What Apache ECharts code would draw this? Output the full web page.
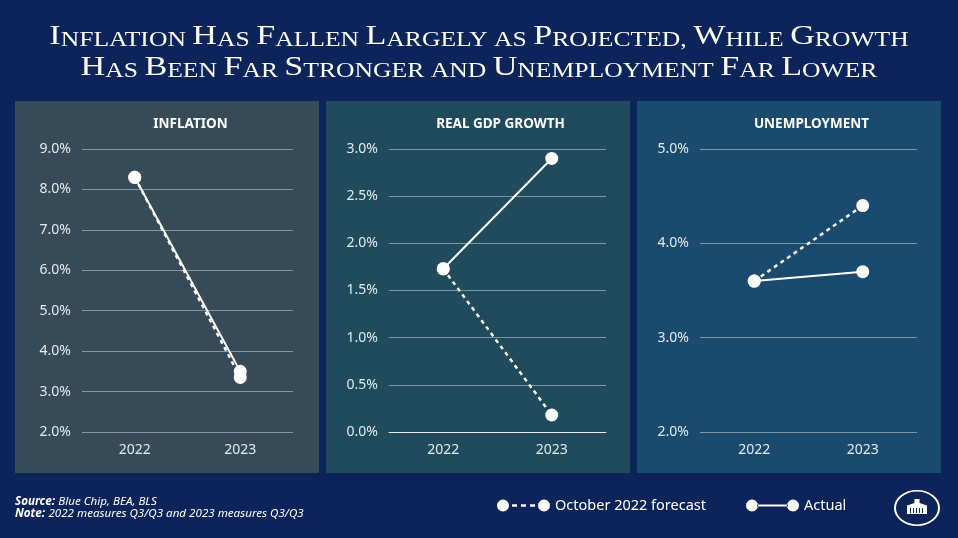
<!DOCTYPE html>
<html>
<head>
<meta charset="utf-8">
<script src="https://cdn.jsdelivr.net/npm/echarts@6/dist/echarts.min.js"></script>
<style>
  html, body { margin: 0; padding: 0; background: #0c2459; }
  #main { width: 958px; height: 538px; }
</style>
</head>
<body>
<div id="main"></div>
<script>
// data
const years = ['2022', '2023'];
const panelTitles = ['INFLATION', 'REAL GDP GROWTH', 'UNEMPLOYMENT'];
const inflationForecast = [8.3, 3.35];
const inflationActual = [8.3, 3.5];
const gdpForecast = [1.73, 0.18];
const gdpActual = [1.73, 2.9];
const unempForecast = [3.6, 4.4];
const unempActual = [3.6, 3.7];
const forecastName = 'October 2022 forecast';
const actualName = 'Actual';

const titleLines = [
  'Inflation Has Fallen Largely as Projected, While Growth',
  'Has Been Far Stronger and Unemployment Far Lower'
];

const chart = echarts.init(document.getElementById('main'));

// fake small caps with rich text: capitals big, the rest small uppercase
function smallCaps(str) {
  let out = '';
  let run = '';
  let kind = null;
  for (const ch of str) {
    const k = (ch >= 'A' && ch <= 'Z') ? 'b' : 's';
    if (k !== kind && run) {
      out += '{' + kind + '|' + run + '}';
      run = '';
    }
    kind = k;
    run += ch.toUpperCase();
  }
  if (run) out += '{' + kind + '|' + run + '}';
  return out;
}

const labelColor = '#e4eaee';
const gridColor = 'rgba(200,214,224,0.55)';
const font = 'Noto Sans';

// panel boxes [x, width, color]
const panels = [
  [15, 304, '#364b57'],
  [326, 304, '#1f4b5c'],
  [637, 304, '#1b4a6f']
];
const grids = [
  { left: 82, width: 211, top: 149, height: 283 },
  { left: 389, width: 217, top: 149, height: 283 },
  { left: 700, width: 217, top: 149, height: 283 }
];
const yRanges = [[2, 9, 1], [0, 3, 0.5], [2, 5, 1]];

const xAxes = grids.map((g, i) => ({
  type: 'category',
  gridIndex: i,
  data: years,
  boundaryGap: true,
  axisTick: { show: false },
  axisLine: { show: i === 1, lineStyle: { color: '#e8eef2', width: 1 } },
  axisLabel: { color: labelColor, fontSize: 14, fontFamily: font, margin: 11 }
}));

const yAxes = yRanges.map((r, i) => ({
  type: 'value',
  gridIndex: i,
  min: r[0],
  max: r[1],
  interval: r[2],
  axisLine: { show: false },
  axisTick: { show: false },
  splitLine: { lineStyle: { color: gridColor, width: 1 } },
  axisLabel: {
    color: labelColor, fontSize: 14, fontFamily: font, margin: 11,
    formatter: v => v.toFixed(1) + '%'
  }
}));

function forecastSeries(data, i) {
  return {
    name: forecastName, type: 'line', xAxisIndex: i, yAxisIndex: i, data,
    symbol: 'circle', symbolSize: 13, z: 3,
    itemStyle: { color: '#ffffff' },
    lineStyle: { color: '#ffffff', width: 2.5, type: [4, 4] },
    emphasis: { disabled: true }
  };
}
function actualSeries(data, i) {
  return {
    name: actualName, type: 'line', xAxisIndex: i, yAxisIndex: i, data,
    symbol: 'circle', symbolSize: 13, z: 4,
    itemStyle: { color: '#ffffff' },
    lineStyle: { color: '#ffffff', width: 2 },
    emphasis: { disabled: true }
  };
}

const dashedIcon = 'path://M0,6A6,6 0 1,0 12,6A6,6 0 1,0 0,6Z' +
  'M15,4.8L20,4.8L20,7.2L15,7.2Z M24,4.8L29,4.8L29,7.2L24,7.2Z M33,4.8L38,4.8L38,7.2L33,7.2Z' +
  'M41,6A6,6 0 1,0 53,6A6,6 0 1,0 41,6Z';
const solidIcon = 'path://M0,6A6,6 0 1,0 12,6A6,6 0 1,0 0,6Z' +
  'M11,5L42,5L42,7L11,7Z' +
  'M41,6A6,6 0 1,0 53,6A6,6 0 1,0 41,6Z';

const graphics = panels.map(p => ({
  type: 'rect', z: -10, silent: true,
  shape: { x: p[0], y: 101, width: p[1], height: 372 },
  style: { fill: p[2] }
}));

titleLines.forEach((line, i) => {
  graphics.push({
    type: 'group', x: 479, y: 35.5 + i * 31.3, scaleX: 1.22,
    children: [{
      type: 'text', x: 0, y: 0,
      style: {
        text: smallCaps(line),
        align: 'center', verticalAlign: 'middle',
        fill: '#ffffff',
        rich: {
          b: { fontFamily: 'Liberation Serif', fontSize: 28, lineHeight: 30, verticalAlign: 'bottom', fill: '#ffffff' },
          s: { fontFamily: 'Liberation Serif', fontSize: 21, lineHeight: 30, verticalAlign: 'bottom', fill: '#ffffff' }
        }
      }
    }]
  });
});

graphics.push({
  type: 'text', left: 15, top: 496,
  style: {
    text: '{b|Source:} {i|Blue Chip, BEA, BLS}\n{b|Note:} {i|2022 measures Q3/Q3 and 2023 measures Q3/Q3}',
    fill: '#ffffff',
    rich: {
      b: { fontFamily: font, fontSize: 11.6, fontWeight: 'bold', fontStyle: 'italic', fill: '#ffffff', lineHeight: 12 },
      i: { fontFamily: font, fontSize: 11.6, fontStyle: 'italic', fill: '#ffffff', lineHeight: 12 }
    }
  }
});

// White House seal, roughly
graphics.push({
  type: 'group', x: 917, y: 508,
  children: [
    { type: 'circle', scaleY: 0.78, shape: { cx: 0, cy: 0, r: 22 }, style: { fill: 'none', stroke: '#ffffff', lineWidth: 2 } },
    { type: 'rect', shape: { x: -10, y: -2, width: 20, height: 8 }, style: { fill: '#ffffff' } },
    { type: 'polygon', shape: { points: [[-11, -2], [0, -6], [11, -2]] }, style: { fill: '#ffffff' } },
    { type: 'rect', shape: { x: -2.5, y: -9, width: 5, height: 4 }, style: { fill: '#ffffff' } },
    { type: 'rect', shape: { x: -7, y: 0, width: 1, height: 5 }, style: { fill: '#0c2459' } },
    { type: 'rect', shape: { x: -4, y: 0, width: 1, height: 5 }, style: { fill: '#0c2459' } },
    { type: 'rect', shape: { x: -1, y: 0, width: 1, height: 5 }, style: { fill: '#0c2459' } },
    { type: 'rect', shape: { x: 2, y: 0, width: 1, height: 5 }, style: { fill: '#0c2459' } },
    { type: 'rect', shape: { x: 5, y: 0, width: 1, height: 5 }, style: { fill: '#0c2459' } }
  ]
});

const option = {
  backgroundColor: '#0c2459',
  animation: false,
  title: panelTitles.map((t, i) => ({
    text: t,
    left: grids[i].left + grids[i].width / 2 - 2,
    top: 112,
    textAlign: 'center',
    textStyle: { color: '#ffffff', fontSize: 13.5, fontWeight: 'bold', fontFamily: font }
  })),
  grid: grids,
  xAxis: xAxes,
  yAxis: yAxes,
  legend: {
    left: 492, top: 493,
    itemWidth: 53, itemHeight: 12, itemGap: 40,
    selectedMode: false,
    itemStyle: { color: '#ffffff', borderWidth: 0 },
    textStyle: { color: '#ffffff', fontSize: 14.5, fontFamily: font },
    data: [
      { name: forecastName, icon: dashedIcon },
      { name: actualName, icon: solidIcon }
    ]
  },
  graphic: graphics,
  series: [
    forecastSeries(inflationForecast, 0), actualSeries(inflationActual, 0),
    forecastSeries(gdpForecast, 1), actualSeries(gdpActual, 1),
    forecastSeries(unempForecast, 2), actualSeries(unempActual, 2)
  ]
};

chart.setOption(option);
</script>
</body>
</html>
